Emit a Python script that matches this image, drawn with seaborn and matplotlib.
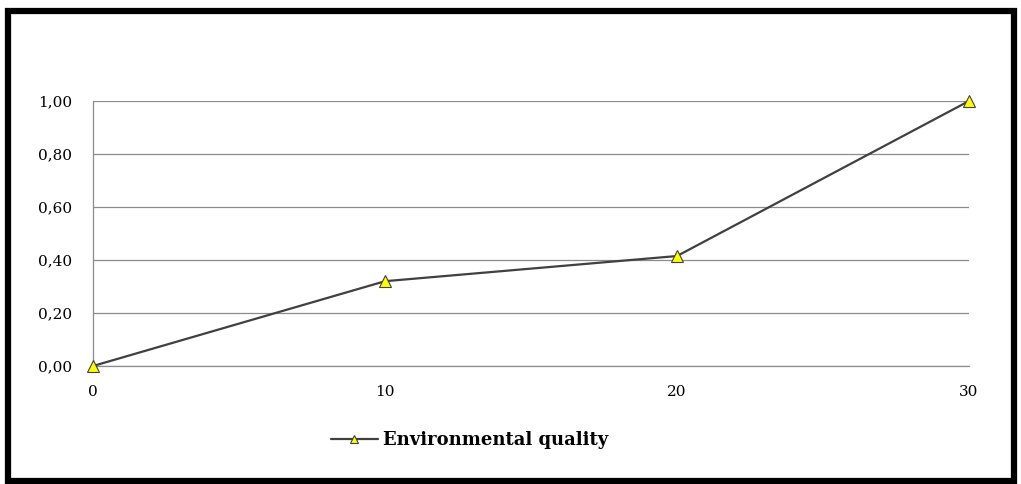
import matplotlib
matplotlib.use("Agg")
import matplotlib.pyplot as plt
import seaborn as sns
import pandas as pd
from matplotlib.patches import Rectangle
from matplotlib.ticker import FuncFormatter

# values
x_vals = [0, 10, 20, 30]
quality = [0.0, 0.32, 0.415, 1.0]
y_ticks = [0.0, 0.2, 0.4, 0.6, 0.8, 1.0]
series_name = "Environmental quality"

df = pd.DataFrame({"x": x_vals, "value": quality})

sns.set_style("white")
plt.rcParams["font.family"] = ["DejaVu Serif"]
plt.rcParams["text.color"] = "black"
plt.rcParams["xtick.color"] = "black"
plt.rcParams["ytick.color"] = "black"

fig = plt.figure(figsize=(10.21, 4.84), dpi=100)
ax = fig.add_axes([93 / 1021, 1 - 366 / 484, (969 - 93) / 1021, (366 - 101) / 484])

sns.lineplot(data=df, x="x", y="value", ax=ax, color="#404040", linewidth=1.6,
             marker="^", markersize=8, markerfacecolor="#ffff00",
             markeredgecolor="#404040", markeredgewidth=0.8,
             label=series_name, clip_on=False, zorder=5)

ax.set_xlim(0, 30)
ax.set_ylim(0, 1.0)
ax.set_xticks(x_vals)
ax.set_yticks(y_ticks)
ax.yaxis.set_major_formatter(FuncFormatter(lambda v, p: f"{v:.2f}".replace(".", ",")))
ax.grid(axis="y", color="#8c8c8c", linewidth=0.9)
ax.grid(axis="x", visible=False)
for side in ["top", "right"]:
    ax.spines[side].set_visible(False)
for side in ["left", "bottom"]:
    ax.spines[side].set_color("#8c8c8c")
    ax.spines[side].set_linewidth(0.9)
ax.tick_params(axis="x", length=4, color="#8c8c8c", labelcolor="black",
               direction="out", pad=10, labelsize=11)
ax.tick_params(axis="y", length=4, color="#8c8c8c", labelcolor="black",
               direction="out", pad=11, labelsize=11)
ax.set_xlabel("")
ax.set_ylabel("")

leg = ax.legend(loc="center", bbox_to_anchor=(0.43, -0.28), frameon=False,
                prop={"size": 13, "weight": "bold"}, handlelength=2.6,
                handletextpad=0.3)
for h in leg.legend_handles:
    h.set_markersize(6)
for t in leg.get_texts():
    t.set_color("black")

# outer black frame
fig.patches.append(Rectangle((7.5 / 1021, 3 / 484), 1006 / 1021, 470 / 484,
                             transform=fig.transFigure, fill=False,
                             edgecolor="black", linewidth=4.5))

fig.savefig("out.png", dpi=100)
